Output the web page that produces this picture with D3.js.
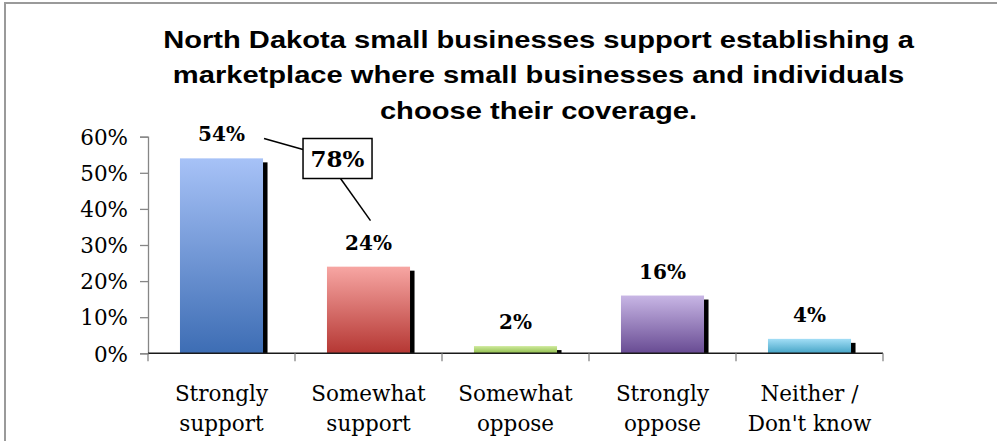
<!DOCTYPE html>
<html>
<head>
<meta charset="utf-8">
<script src="https://cdn.jsdelivr.net/npm/d3@7"></script>
<style>
  html, body { margin: 0; padding: 0; background: #fff; }
  svg { display: block; }
</style>
</head>
<body>
<svg id="chart" width="997" height="441"></svg>
<script>
const titleLines = [
  "North Dakota small businesses support establishing a",
  "marketplace where small businesses and individuals",
  "choose their coverage."
];
const categories = [["Strongly", "support"], ["Somewhat", "support"], ["Somewhat", "oppose"], ["Strongly", "oppose"], ["Neither /", "Don't know"]];
const values = [0.54, 0.24, 0.02, 0.16, 0.04];
const valueLabels = ["54%", "24%", "2%", "16%", "4%"];
const yTicks = [0, 0.1, 0.2, 0.3, 0.4, 0.5, 0.6];
const combinedLabel = "78%";
const gradTop = ["#a7c2f7", "#f7a6a3", "#cfea9c", "#c8b6e5", "#a2def6"];
const gradBottom = ["#3d6db4", "#b53733", "#8fbd4c", "#684b93", "#45a4c6"];

const svg = d3.select("#chart");
const serif = "'DejaVu Serif', serif";

// outer frame
svg.append("rect").attr("x", 5).attr("y", 3).attr("width", 1010).attr("height", 460)
  .attr("fill", "none").attr("stroke", "#9a9a9a").attr("stroke-width", 2);

// title (wide rendering: horizontally stretched to match the original)
const titleCx = 538.5, titleW = 751;
const tg = svg.append("g");
const tt = tg.append("text")
  .attr("font-family", "'Liberation Sans', Arial, sans-serif")
  .attr("font-weight", "bold").attr("font-size", 23.5).attr("fill", "#000")
  .attr("text-anchor", "middle");
tt.selectAll("tspan").data(titleLines).join("tspan")
  .attr("x", 0).attr("y", (d, i) => 48 + i * 35.5).text(d => d);
const firstW = tt.select("tspan").node().getComputedTextLength();
const sx = titleW / firstW;
tg.attr("transform", `translate(${titleCx},0) scale(${sx},1)`);

const x0 = 148, x1 = 883, yTop = 136.7, yBot = 353.3;
const keys = categories.map(c => c.join(" "));
const x = d3.scaleBand().domain(keys).range([x0, x1]).paddingInner(0.435).paddingOuter(0.2175);
const y = d3.scaleLinear().domain([0, 0.6]).range([yBot, yTop]);

// gradients
const defs = svg.append("defs");
values.forEach((v, i) => {
  const g = defs.append("linearGradient").attr("id", "g" + i)
    .attr("x1", 0).attr("y1", 0).attr("x2", 0).attr("y2", 1);
  g.append("stop").attr("offset", "0%").attr("stop-color", gradTop[i]);
  g.append("stop").attr("offset", "100%").attr("stop-color", gradBottom[i]);
});

// y axis
const yAxis = d3.axisLeft(y).tickValues(yTicks).tickFormat(d3.format(".0%")).tickSize(8).tickPadding(12);
const gy = svg.append("g").attr("transform", `translate(${x0},0)`).call(yAxis);
gy.select(".domain").attr("stroke", "#868686").attr("stroke-width", 1.3);
gy.selectAll(".tick line").attr("stroke", "#868686").attr("stroke-width", 1.3);
gy.selectAll(".tick text").attr("font-family", serif).attr("font-size", 21.5).attr("fill", "#000").attr("dy", "0.36em");

// shadows
svg.selectAll("rect.shadow").data(values).join("rect").attr("class", "shadow")
  .attr("x", (d, i) => x(keys[i]) + 4.5)
  .attr("y", d => y(d) + 4)
  .attr("width", x.bandwidth())
  .attr("height", d => Math.max(0, yBot - y(d) - 4))
  .attr("fill", "#000");

// bars
svg.selectAll("rect.bar").data(values).join("rect").attr("class", "bar")
  .attr("x", (d, i) => x(keys[i]))
  .attr("y", d => y(d))
  .attr("width", x.bandwidth())
  .attr("height", d => yBot - y(d))
  .attr("fill", (d, i) => `url(#g${i})`);

// x axis
svg.append("line").attr("x1", x0).attr("x2", x1).attr("y1", yBot).attr("y2", yBot)
  .attr("stroke", "#1a1a1a").attr("stroke-width", 1.5);
const tickXs = keys.map(k => x(k) - x.step() * 0.2175).concat([x1]);
svg.selectAll("line.xt").data(tickXs).join("line").attr("class", "xt")
  .attr("x1", d => d).attr("x2", d => d).attr("y1", yBot).attr("y2", yBot + 8)
  .attr("stroke", "#868686").attr("stroke-width", 1.3);

// x labels
const xl = svg.selectAll("text.xl").data(categories).join("text").attr("class", "xl")
  .attr("font-family", serif).attr("font-size", 21.5).attr("fill", "#000").attr("text-anchor", "middle");
xl.selectAll("tspan").data((d, i) => d.map(t => ({ t, i }))).join("tspan")
  .attr("x", d => x(keys[d.i]) + x.bandwidth() / 2)
  .attr("y", (d, j) => 401 + j * 30)
  .text(d => d.t);

// value labels
svg.selectAll("text.vl").data(values).join("text").attr("class", "vl")
  .attr("x", (d, i) => x(keys[i]) + x.bandwidth() / 2)
  .attr("y", d => y(d) - 17)
  .attr("text-anchor", "middle").attr("font-family", serif).attr("font-weight", "bold")
  .attr("font-size", 20).attr("fill", "#000")
  .text((d, i) => valueLabels[i]);

// combined callout
const bx = x(keys[0]) + x.bandwidth() + 40, by = 138.5, bw = 69, bh = 40;
svg.append("line").attr("x1", x(keys[0]) + x.bandwidth() + 1).attr("y1", 138.5)
  .attr("x2", bx).attr("y2", 149.5).attr("stroke", "#000").attr("stroke-width", 1.5);
svg.append("line").attr("x1", bx + 37.5).attr("y1", by + bh)
  .attr("x2", x(keys[1]) + x.bandwidth() / 2 + 2).attr("y2", y(values[1]) - 46)
  .attr("stroke", "#000").attr("stroke-width", 1.5);
svg.append("rect").attr("x", bx).attr("y", by).attr("width", bw).attr("height", bh)
  .attr("fill", "#fff").attr("stroke", "#000").attr("stroke-width", 1.5);
svg.append("text").attr("x", bx + bw / 2).attr("y", by + bh / 2 + 8)
  .attr("text-anchor", "middle").attr("font-family", serif).attr("font-weight", "bold")
  .attr("font-size", 23).attr("fill", "#000").text(combinedLabel);
</script>
</body>
</html>
